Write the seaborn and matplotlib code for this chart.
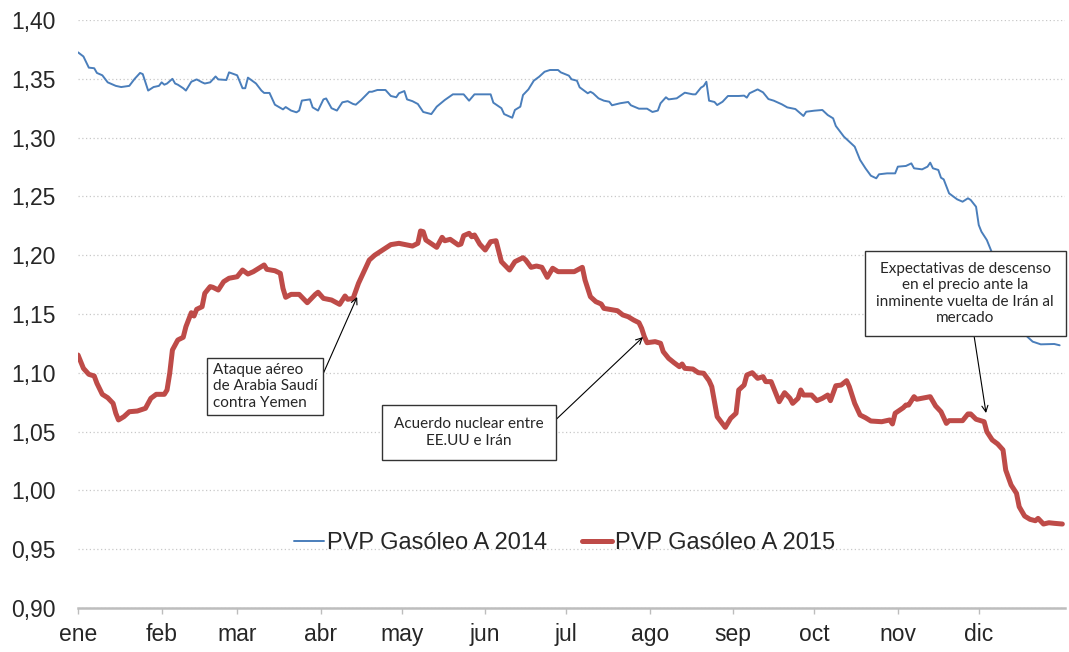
import pandas as pd
import seaborn as sns
import matplotlib.pyplot as plt

# Day of year (0 = 1 Jan) and price
days_2014 = [0, 2, 4, 6, 7, 9, 11, 14, 16, 19, 21, 23, 24, 26, 28, 30, 31, 32, 33, 35,
             36, 37, 39, 40, 42, 44, 46, 47, 49, 51, 52, 55, 56, 59, 61, 62, 63, 66, 68, 69,
             71, 73, 76, 77, 79, 81, 82, 83, 86, 87, 89, 91, 92, 94, 96, 98, 100, 102, 103, 105,
             108, 109, 111, 114, 116, 118, 119, 121, 122, 124, 126, 128, 131, 133, 136, 139, 143, 145, 147, 153,
             154, 157, 158, 161, 162, 164, 165, 167, 169, 171, 173, 175, 178, 179, 182, 183, 185, 186, 189, 190,
             191, 193, 195, 197, 198, 201, 204, 205, 208, 211, 213, 215, 216, 218, 219, 222, 225, 228, 229, 231,
             232, 233, 234, 236, 237, 239, 241, 245, 247, 248, 249, 252, 254, 256, 258, 261, 263, 266, 269, 270,
             273, 276, 278, 280, 281, 284, 288, 290, 292, 294, 296, 297, 300, 303, 304, 307, 309, 310, 313, 315,
             316, 317, 319, 320, 321, 323, 326, 328, 330, 331, 333, 334, 335, 337, 339, 343, 346, 349, 352, 354,
             357, 362, 364]
price_2014 = [1.3725, 1.369, 1.3595, 1.359, 1.355, 1.353, 1.347, 1.344, 1.343, 1.344, 1.350, 1.355, 1.354, 1.340, 1.343, 1.344, 1.347, 1.345, 1.346, 1.350,
              1.346, 1.345, 1.342, 1.340, 1.3475, 1.3495, 1.347, 1.346, 1.347, 1.352, 1.3495, 1.349, 1.3555, 1.353, 1.342, 1.342, 1.351, 1.346, 1.340, 1.338,
              1.338, 1.328, 1.324, 1.326, 1.323, 1.3215, 1.323, 1.3315, 1.3325, 1.3257, 1.323, 1.3325, 1.3333, 1.325, 1.323, 1.330, 1.331, 1.3286, 1.328, 1.332,
              1.339, 1.339, 1.3405, 1.3405, 1.3354, 1.3343, 1.3377, 1.3396, 1.3325, 1.331, 1.3286, 1.3218, 1.320, 1.3263, 1.332, 1.3368, 1.3368, 1.3314, 1.3368, 1.3368,
              1.3297, 1.325, 1.320, 1.3169, 1.3235, 1.3263, 1.3362, 1.341, 1.3484, 1.3518, 1.356, 1.3575, 1.3575, 1.3555, 1.3527, 1.3496, 1.3484, 1.3428, 1.3377, 1.339,
              1.3377, 1.3334, 1.3314, 1.3305, 1.3275, 1.3292, 1.3303, 1.3275, 1.3246, 1.3246, 1.3218, 1.323, 1.3292, 1.3343, 1.3325, 1.3334, 1.3382, 1.3368, 1.3368, 1.3425,
              1.3439, 1.3475, 1.3314, 1.3303, 1.3277, 1.3305, 1.3354, 1.3354, 1.3357, 1.334, 1.3377, 1.341, 1.3385, 1.3328, 1.3314, 1.3283, 1.3257, 1.3243, 1.3184, 1.322,
              1.3229, 1.3235, 1.3192, 1.3164, 1.3099, 1.3008, 1.2923, 1.281, 1.2739, 1.2676, 1.2654, 1.2688, 1.2696, 1.2696, 1.2753, 1.2759, 1.2781, 1.2739, 1.273, 1.2753,
              1.2787, 1.2739, 1.2725, 1.2659, 1.2645, 1.2526, 1.2475, 1.2455, 1.2484, 1.247, 1.2412, 1.2257, 1.22, 1.2129, 1.2016, 1.1874, 1.1676, 1.1477, 1.1307, 1.1265,
              1.1242, 1.1245, 1.1234]

days_2015 = [0, 2, 4, 6, 7, 9, 11, 13, 14, 15, 17, 19, 22, 25, 27, 29, 32, 33, 34, 35,
             37, 39, 40, 42, 43, 44, 46, 47, 49, 50, 52, 54, 56, 59, 61, 63, 65, 67, 69, 70,
             73, 75, 76, 77, 79, 82, 85, 88, 89, 91, 94, 97, 99, 100, 102, 104, 106, 108, 110, 116,
             119, 124, 126, 127, 128, 129, 133, 135, 136, 138, 141, 142, 143, 145, 146, 147, 149, 151, 153, 155,
             157, 160, 162, 165, 166, 168, 170, 172, 174, 176, 178, 184, 187, 188, 190, 192, 194, 195, 197, 200,
             202, 204, 206, 208, 209, 210, 211, 214, 216, 217, 219, 221, 223, 224, 225, 228, 230, 232, 234, 235,
             237, 240, 242, 244, 245, 247, 248, 250, 252, 254, 255, 257, 260, 262, 264, 265, 267, 268, 269, 272,
             274, 276, 278, 279, 281, 283, 285, 286, 288, 290, 292, 294, 298, 301, 302, 303, 306, 307, 308, 310,
             311, 315, 316, 318, 320, 322, 323, 328, 330, 331, 333, 336, 337, 339, 341, 343, 344, 346, 348, 349,
             351, 353, 355, 356, 358, 360, 362, 365]
price_2015 = [1.1151, 1.1038, 1.0987, 1.0973, 1.0911, 1.0817, 1.0788, 1.074, 1.0656, 1.0599, 1.0627, 1.0669, 1.0675, 1.0698, 1.0783, 1.0817, 1.0817, 1.0854, 1.0996, 1.1194,
              1.1279, 1.1302, 1.1392, 1.1511, 1.1483, 1.154, 1.1562, 1.1676, 1.1733, 1.1727, 1.1704, 1.1775, 1.1804, 1.1817, 1.1874, 1.184, 1.186, 1.1889, 1.1917, 1.188,
              1.1868, 1.1846, 1.1718, 1.1642, 1.1667, 1.1667, 1.1596, 1.1667, 1.1685, 1.1633, 1.1619, 1.1582, 1.1653, 1.1625, 1.1633, 1.1761, 1.186, 1.1959, 1.200, 1.209,
              1.2101, 1.2078, 1.2101, 1.2206, 1.220, 1.2129, 1.2067, 1.2152, 1.2123, 1.2135, 1.2087, 1.2095, 1.2166, 1.2186, 1.2157, 1.2172, 1.2093, 1.2044, 1.2115, 1.2123,
              1.1945, 1.1874, 1.1945, 1.1979, 1.1959, 1.1897, 1.1908, 1.1897, 1.1812, 1.1889, 1.186, 1.186, 1.1897, 1.1789, 1.1647, 1.1605, 1.1585, 1.1548, 1.154, 1.1528,
              1.1492, 1.1477, 1.1449, 1.1426, 1.1378, 1.1307, 1.1256, 1.1265, 1.1251, 1.118, 1.1123, 1.1086, 1.1052, 1.1075, 1.1038, 1.1032, 1.1001, 1.0996, 1.0933, 1.0882,
              1.0627, 1.0536, 1.0613, 1.0656, 1.0854, 1.0896, 1.0981, 1.1001, 1.0953, 1.0967, 1.0925, 1.0925, 1.0754, 1.0831, 1.0783, 1.074, 1.0783, 1.0854, 1.0811, 1.0811,
              1.0763, 1.0783, 1.0811, 1.0763, 1.089, 1.0896, 1.0933, 1.0882, 1.074, 1.0641, 1.0618, 1.059, 1.0584, 1.0599, 1.0565, 1.0656, 1.0703, 1.0726, 1.0726, 1.0797,
              1.0775, 1.0792, 1.0797, 1.0718, 1.0669, 1.057, 1.0593, 1.0593, 1.065, 1.065, 1.0605, 1.0584, 1.0499, 1.0429, 1.0395, 1.0344, 1.0173, 1.0046, 0.9975, 0.9861,
              0.9782, 0.9754, 0.9742, 0.9762, 0.9714, 0.9725, 0.972, 0.9714]

month_days = [0, 31, 59, 90, 120, 151, 181, 212, 243, 273, 304, 334]
month_labels = ["ene", "feb", "mar", "abr", "may", "jun", "jul", "ago", "sep", "oct", "nov", "dic"]
y_ticks = [0.90, 0.95, 1.00, 1.05, 1.10, 1.15, 1.20, 1.25, 1.30, 1.35, 1.40]

sns.set_theme(style="white")
plt.rcParams["font.family"] = ["Liberation Sans", "DejaVu Sans"]

df14 = pd.DataFrame({"dia": days_2014, "precio": price_2014})
df15 = pd.DataFrame({"dia": days_2015, "precio": price_2015})

fig = plt.figure(figsize=(10.69, 6.52), dpi=100)
ax = fig.add_axes([0.073, 0.0675, 0.9233, 0.9018])

sns.lineplot(data=df14, x="dia", y="precio", color="#4a7ebb", linewidth=1.4,
             label="PVP Gasóleo A 2014", ax=ax)
sns.lineplot(data=df15, x="dia", y="precio", color="#be4b48", linewidth=3.6,
             label="PVP Gasóleo A 2015", ax=ax)

ax.set_xlim(0, 366)
ax.set_ylim(0.90, 1.40)
ax.set_yticks(y_ticks)
ax.set_yticklabels([f"{v:.2f}".replace(".", ",") for v in y_ticks], fontsize=16.5)
ax.set_xticks(month_days)
ax.set_xticklabels(month_labels, fontsize=16.5)
ax.set_xlabel("")
ax.set_ylabel("")
ax.grid(axis="y", color="#c8c8c8", linestyle=(0, (1, 2)), linewidth=0.9)
for side in ["left", "right", "top"]:
    ax.spines[side].set_visible(False)
ax.spines["bottom"].set_color("#bdbdbd")
ax.spines["bottom"].set_linewidth(1.8)
ax.tick_params(axis="x", bottom=True, length=4, width=1, color="#bdbdbd", pad=7)
ax.tick_params(axis="y", left=False, length=0, pad=16)

ax.legend(loc="center", bbox_to_anchor=(0.493, 0.11), ncol=2, frameon=False,
          fontsize=17, handlelength=1.25, handletextpad=0.12, columnspacing=1.5)

note_font = ["Lato", "DejaVu Sans"]
arrow = dict(arrowstyle="->", color="black", lw=0.8, shrinkA=0, shrinkB=0)
box = dict(boxstyle="square,pad=0.35", fc="white", ec="#333333", lw=1)

ax.annotate("Ataque aéreo\nde Arabia Saudí\ncontra Yemen", xy=(103.5, 1.1645), xytext=(69.3, 1.0884),
            ha="center", va="center", multialignment="left", fontsize=11, family=note_font,
            bbox=box, arrowprops=dict(arrow, relpos=(0.97, 0.33)))
ax.annotate("Acuerdo nuclear entre\nEE.UU e Irán", xy=(209.5, 1.1304), xytext=(145, 1.0492),
            ha="center", va="center", multialignment="center", fontsize=11, family=note_font,
            bbox=dict(box, boxstyle="square,pad=0.8"), arrowprops=dict(arrow, relpos=(1.0, 0.55)))
ax.annotate("Expectativas de descenso\nen el precio ante la\ninminente vuelta de Irán al\nmercado",
            xy=(336.7, 1.0658), xytext=(329, 1.1674),
            ha="center", va="center", multialignment="center", fontsize=11, family=note_font,
            bbox=dict(box, boxstyle="square,pad=0.75"), arrowprops=dict(arrow, relpos=(0.54, 0.0)))

plt.savefig("out.png", dpi=100)
